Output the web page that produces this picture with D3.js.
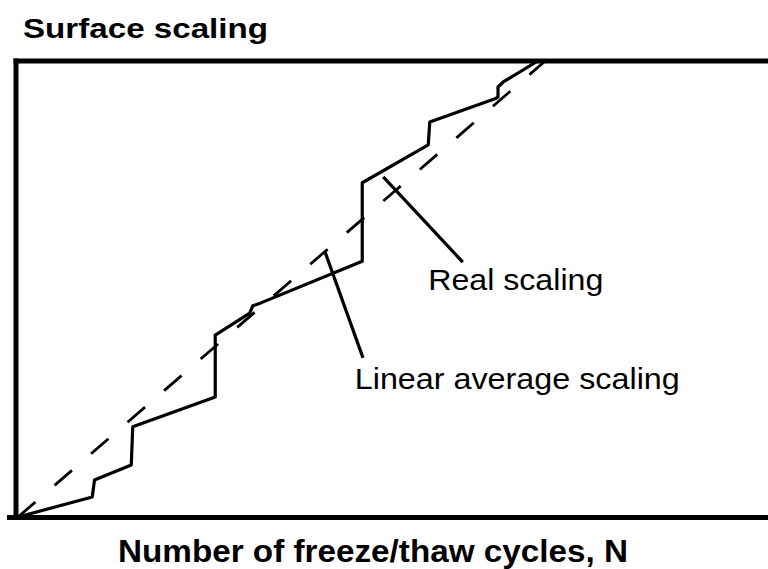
<!DOCTYPE html>
<html>
<head>
<meta charset="utf-8">
<script src="https://cdn.jsdelivr.net/npm/d3@7"></script>
<style>
  html, body { margin: 0; padding: 0; background: #fff; }
  svg { display: block; }
  text { font-family: "Liberation Sans", Arial, Helvetica, sans-serif; fill: #000; }
</style>
</head>
<body>
<svg id="chart" width="768" height="569"></svg>
<script>
// Real (stepwise) surface scaling against number of freeze/thaw cycles
const cyclesN  = [0, 9.9, 10.2, 15.1, 15.3, 26.3, 26.3, 30.9, 31.3, 32.3, 45.9, 45.9, 54.7, 54.9, 63.6, 64.0, 64.0, 64.7, 69.3];
const scalingS = [0, 4.4, 8.1, 11.4, 19.8, 26.3, 39.9, 44.7, 46.3, 46.9, 56.1, 73.3, 81.6, 86.6, 91.7, 92.1, 94.3, 95.4, 100];

// Linear average scaling (straight line through the origin)
const averageN = [0, 70.3];
const averageS = [0, 100];

// Axis titles
const yTitle = "Surface scaling";
const xTitle = "Number of freeze/thaw cycles, N";

// Callout labels: text, leader line ends, label anchor (data units)
const calloutText   = ["Real scaling", "Linear average scaling"];
const calloutFrom   = [[48.7, 74.6], [40.9, 58.3]];
const calloutTo     = [[59.3, 55.9], [46.0, 34.9]];
const calloutAnchor = [[54.7, 49.8], [44.9, 28.1]];

const svg = d3.select("#chart");

const x = d3.scaleLinear().domain([0, 100]).range([18, 768]);
const y = d3.scaleLinear().domain([0, 100]).range([517, 61]);

// Frame: left, top and bottom edges (open on the right)
const frame = svg.append("g")
  .attr("fill", "none")
  .attr("stroke", "#000")
  .attr("stroke-width", 5);
frame.append("line")
  .attr("x1", x(0) - 2).attr("x2", x(0) - 2)
  .attr("y1", y(100) - 2.5).attr("y2", y(0) + 2.5);
frame.append("line")
  .attr("x1", x(0) - 4.5).attr("x2", x(100))
  .attr("y1", y(100)).attr("y2", y(100));
frame.append("line")
  .attr("x1", x(0) - 11).attr("x2", x(100))
  .attr("y1", y(0) + 0.5).attr("y2", y(0) + 0.5);

const line = d3.line().x(d => x(d[0])).y(d => y(d[1]));

// Linear average (dashed)
svg.append("path")
  .datum(d3.zip(averageN, averageS))
  .attr("d", line)
  .attr("fill", "none")
  .attr("stroke", "#000")
  .attr("stroke-width", 2.8)
  .attr("stroke-dasharray", "23 25.3");

// Real scaling (solid, stepwise)
svg.append("path")
  .datum(d3.zip(cyclesN, scalingS))
  .attr("d", line)
  .attr("fill", "none")
  .attr("stroke", "#000")
  .attr("stroke-width", 3.2)
  .attr("stroke-linejoin", "round");

// Callouts
calloutText.forEach((t, i) => {
  svg.append("line")
    .attr("x1", x(calloutFrom[i][0])).attr("y1", y(calloutFrom[i][1]))
    .attr("x2", x(calloutTo[i][0])).attr("y2", y(calloutTo[i][1]))
    .attr("stroke", "#000")
    .attr("stroke-width", 3.2);
});

svg.append("text")
  .attr("x", x(calloutAnchor[0][0])).attr("y", y(calloutAnchor[0][1]))
  .attr("font-size", 30)
  .attr("textLength", 175).attr("lengthAdjust", "spacingAndGlyphs")
  .text(calloutText[0]);
svg.append("text")
  .attr("x", x(calloutAnchor[1][0])).attr("y", y(calloutAnchor[1][1]))
  .attr("font-size", 30)
  .attr("textLength", 325).attr("lengthAdjust", "spacingAndGlyphs")
  .text(calloutText[1]);

// Titles
svg.append("text")
  .attr("x", 23).attr("y", 38)
  .attr("font-size", 28).attr("font-weight", "bold")
  .attr("textLength", 245).attr("lengthAdjust", "spacingAndGlyphs")
  .text(yTitle);

svg.append("text")
  .attr("x", 118).attr("y", 562)
  .attr("font-size", 31).attr("font-weight", "bold")
  .attr("textLength", 510).attr("lengthAdjust", "spacingAndGlyphs")
  .text(xTitle);
</script>
</body>
</html>
